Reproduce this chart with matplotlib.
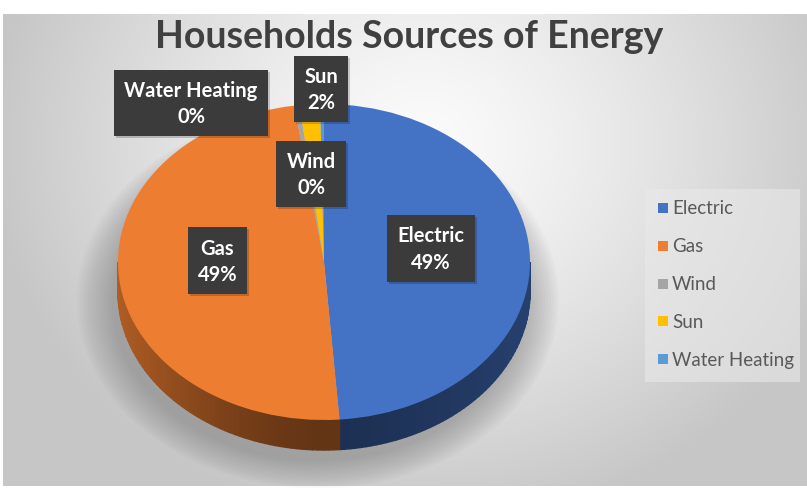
import numpy as np
import matplotlib.pyplot as plt
import matplotlib.colors as mcolors
from matplotlib.patches import Polygon, Ellipse, Rectangle

# Data
categories = ['Electric', 'Gas', 'Wind', 'Sun', 'Water Heating']
shares = [48.8, 48.9, 0.4, 1.6, 0.3]
colors = ['#4472c4', '#ed7d31', '#a5a5a5', '#ffc000', '#5b9bd5']
title = 'Households Sources of Energy'

W, H = 807, 489
fig = plt.figure(figsize=(W / 100, H / 100), dpi=100)
fig.patch.set_facecolor('white')

# Chart area background (radial grey gradient)
bg = fig.add_axes([3 / W, 2 / H, (W - 3) / W, (472) / H])
bg.set_axis_off()
yy, xx = np.mgrid[0:472, 0:804]
d = np.sqrt(((xx - 420) / 430.0) ** 2 + ((yy - 130) / 380.0) ** 2)
d = np.clip(d, 0, 1) ** 1.3
c0, c1 = 0.985, 0.78
img = c0 + (c1 - c0) * d
bg.imshow(np.dstack([img, img, img]), aspect='auto', extent=[0, 804, 472, 0])
bg.set_xlim(0, 804)
bg.set_ylim(472, 0)

# Pie axes: 1 unit x = rx px, 1 unit y = ry px
cx, cy = 324, H - 263
rx, ry = 206, 158
depth = 30 / ry
xl, yl = (-1.25, 1.25), (-1.45, 1.2)
ax = fig.add_axes([(cx + xl[0] * rx) / W, (cy + yl[0] * ry) / H,
                   (xl[1] - xl[0]) * rx / W, (yl[1] - yl[0]) * ry / H])
ax.set_axis_off()

# soft shadow under pie
for k in range(14):
    s = 1.0 + 0.013 * k
    ax.add_patch(Ellipse((-0.03, -depth - 0.05), 2 * s, 2 * s * 1.02,
                         facecolor='#707070', edgecolor='none', alpha=0.04, zorder=0))

wedges, _ = ax.pie(shares, colors=colors, startangle=90, counterclock=False,
                   wedgeprops=dict(linewidth=0), radius=1)
for w in wedges:
    w.set_zorder(3)

# 3D side walls
for w, col in zip(wedges, colors):
    base = np.array(mcolors.to_rgb(col))
    t1, t2 = w.theta1, w.theta2
    for k in (-720, -360, 0, 360):
        a, b = max(t1, 180 + k), min(t2, 360 + k)
        if b <= a:
            continue
        steps = np.linspace(a, b, max(2, int((b - a) / 1.5) + 2))
        for s0, s1 in zip(steps[:-1], steps[1:]):
            tm = np.radians(0.5 * (s0 + s1))
            f = 0.42 + (0.32 if np.cos(tm) < 0 else 0.14) * abs(np.cos(tm)) ** 1.5
            ts = np.radians(np.linspace(s0, s1, 4))
            top = np.column_stack([np.cos(ts), np.sin(ts)])
            bot = np.column_stack([np.cos(ts[::-1]), np.sin(ts[::-1]) - depth])
            ax.add_patch(Polygon(np.vstack([top, bot]), closed=True,
                                 facecolor=base * f, edgecolor=base * f,
                                 linewidth=1.0, zorder=2))

ax.set_aspect('auto')
ax.set_xlim(*xl)
ax.set_ylim(*yl)

# Data labels
box = dict(boxstyle='square,pad=0.5', facecolor='#3b3b3b', edgecolor='none')
lab_font = dict(fontsize=14.5, fontweight='bold', family='Lato',
                ha='center', va='center', linespacing=1.4)
outside = {'Wind': (311, 175), 'Sun': (321, 90), 'Water Heating': (191, 104)}
total = sum(shares)
labels = []
for w, name, v in zip(wedges, categories, shares):
    txt = '%s\n%d%%' % (name, round(100 * v / total))
    if name in outside:
        px, py = outside[name]
    else:
        tm = np.radians(0.5 * (w.theta1 + w.theta2))
        px = cx + rx * 0.52 * np.cos(tm)
        py = H - (cy + ry * (0.52 * np.sin(tm) + 0.065))
    labels.append(fig.text(px / W, 1 - py / H, txt, color='white', bbox=box,
                           zorder=6, **lab_font))

# small drop shadow behind each label box
fig.canvas.draw()
for t in labels:
    bb = t.get_bbox_patch().get_window_extent()
    fig.patches.append(Rectangle(((bb.x0 + 2) / W, (bb.y0 - 2) / H), bb.width / W, bb.height / H,
                                 transform=fig.transFigure, facecolor='black',
                                 edgecolor='none', alpha=0.18, zorder=5))

# Title
fig.text(409 / W, 1 - 37 / H, title, fontsize=27, fontweight='bold', family='Lato',
         color='#404040', ha='center', va='center')

# Legend
fig.patches.append(Rectangle((645 / W, 1 - 383 / H), 155 / W, 193 / H,
                             transform=fig.transFigure, facecolor='#e9e9e9',
                             edgecolor='none', alpha=0.6, zorder=1))
for i, (name, col) in enumerate(zip(categories, colors)):
    y = 1 - (209 + 37.8 * i) / H
    fig.patches.append(Rectangle((657.5 / W, y - 5 / H), 10 / W, 10 / H,
                                 transform=fig.transFigure, facecolor=col,
                                 edgecolor='none', zorder=2))
    fig.text(672 / W, y, name, fontsize=13.5, family='Lato', color='#595959',
             ha='left', va='center')

fig.savefig('out.png', dpi=100, facecolor='white')
